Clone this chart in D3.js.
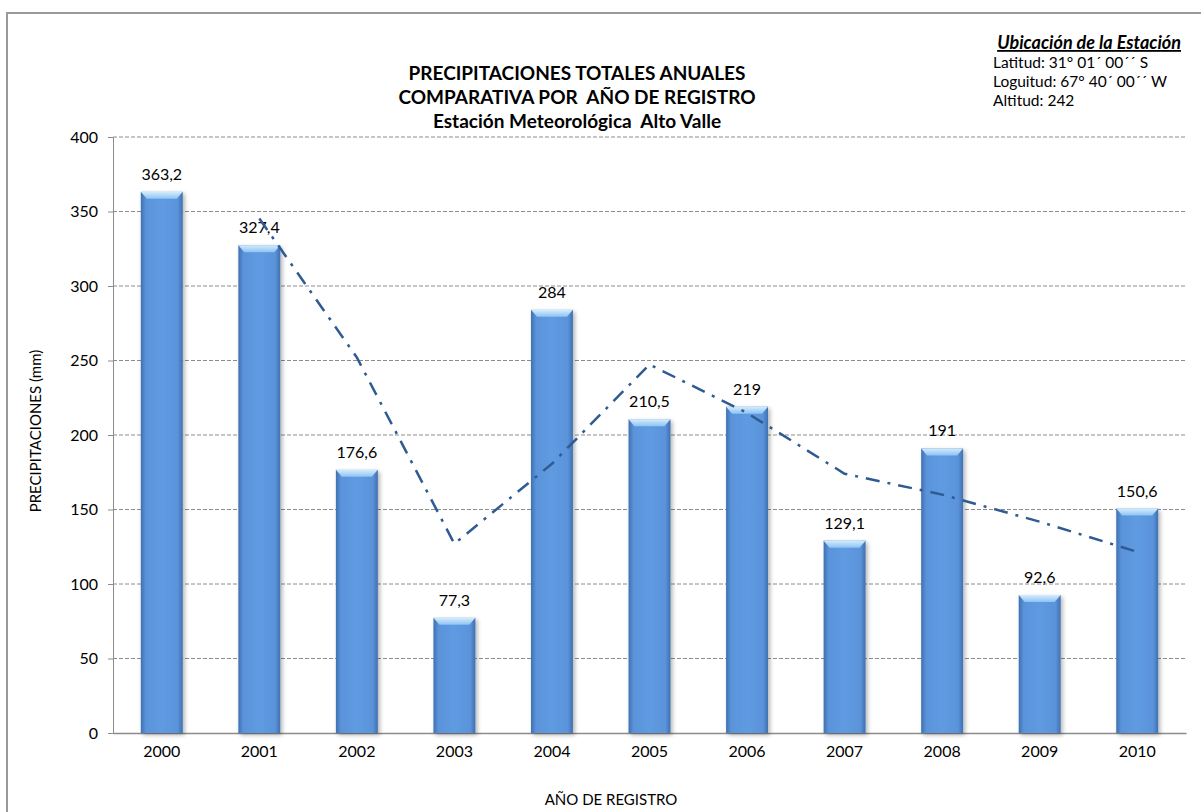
<!DOCTYPE html>
<html>
<head>
<meta charset="utf-8">
<script src="https://cdn.jsdelivr.net/npm/d3@7"></script>
<style>
  body { margin: 0; background: #fff; }
  svg { font-family: Lato, "Open Sans", sans-serif; }
</style>
</head>
<body>
<svg width="1201" height="812"></svg>
<script>
// data
const years = ["2000", "2001", "2002", "2003", "2004", "2005", "2006", "2007", "2008", "2009", "2010"]
const precip = [363.2, 327.4, 176.6, 77.3, 284, 210.5, 219, 129.1, 191, 92.6, 150.6]
const labels = ["363,2", "327,4", "176,6", "77,3", "284", "210,5", "219", "129,1", "191", "92,6", "150,6"]
// trend line (dash dot), starts at 2001
const trendYears = ["2001", "2002", "2003", "2004", "2005", "2006", "2007", "2008", "2009", "2010"]
const trendValues = [345.3, 252, 127, 180.7, 247.3, 214.8, 174, 160, 141.8, 121.6]
const yTicks = [0, 50, 100, 150, 200, 250, 300, 350, 400]
const titleLines = ["PRECIPITACIONES TOTALES ANUALES", "COMPARATIVA POR  AÑO DE REGISTRO", "Estación Meteorológica  Alto Valle"]
const infoLines = ["Latitud: 31° 01´ 00´´ S", "Loguitud: 67° 40´ 00´´ W", "Altitud: 242"]

const svg = d3.select('svg')
const margin = { top: 137, left: 113 }
const innerWidth = 1186 - margin.left
const innerHeight = 733 - margin.top

// chart frame (right and bottom edges fall outside the picture)
svg.append('rect')
  .attr('x', 7).attr('y', 13)
  .attr('width', 1210).attr('height', 820)
  .attr('fill', 'none')
  .attr('stroke', '#9a9a9a')
  .attr('stroke-width', 2)

const defs = svg.append('defs')
const grad = defs.append('linearGradient').attr('id', 'barGrad')
  .attr('x1', '0%').attr('x2', '100%').attr('y1', '0%').attr('y2', '0%')
grad.append('stop').attr('offset', '0%').attr('stop-color', '#3f70b0')
grad.append('stop').attr('offset', '12%').attr('stop-color', '#5a93da')
grad.append('stop').attr('offset', '50%').attr('stop-color', '#5f9be2')
grad.append('stop').attr('offset', '88%').attr('stop-color', '#5a93da')
grad.append('stop').attr('offset', '100%').attr('stop-color', '#3f70b0')

const topGrad = defs.append('linearGradient').attr('id', 'topGrad')
  .attr('x1', '0%').attr('x2', '0%').attr('y1', '0%').attr('y2', '100%')
topGrad.append('stop').attr('offset', '0%').attr('stop-color', '#d6ecfc')
topGrad.append('stop').attr('offset', '100%').attr('stop-color', '#8cc3f3')

const shadow = defs.append('filter').attr('id', 'shadow')
  .attr('x', '-20%').attr('y', '-5%').attr('width', '150%').attr('height', '115%')
shadow.append('feDropShadow').attr('dx', 2).attr('dy', 2).attr('stdDeviation', 2)
  .attr('flood-color', '#000').attr('flood-opacity', 0.3)

const g = svg.append('g')
  .attr('transform', `translate(${margin.left}, ${margin.top})`)

const xScale = d3.scaleBand()
  .domain(years)
  .range([0, innerWidth])
  .paddingInner(0.57)
  .paddingOuter(0.285)

const yScale = d3.scaleLinear()
  .domain([0, 400])
  .range([innerHeight, 0])

// dashed gridlines
g.append('g')
  .selectAll('line')
  .data(yTicks.filter(d => d > 0))
  .join('line')
    .attr('x1', 0).attr('x2', innerWidth)
    .attr('y1', d => yScale(d)).attr('y2', d => yScale(d))
    .attr('stroke', '#8c8c8c')
    .attr('stroke-dasharray', '4,2')

// y axis
const yAxis = g.append('g')
  .call(d3.axisLeft(yScale).tickValues(yTicks).tickSize(5).tickPadding(10))
  .attr('font-family', null)
  .attr('font-size', 16)
yAxis.select('.domain').attr('stroke', '#8c8c8c')
yAxis.selectAll('line').attr('stroke', '#8c8c8c')
yAxis.selectAll('text').attr('fill', '#000')

// x axis
const xAxis = g.append('g')
  .attr('transform', `translate(0, ${innerHeight})`)
  .call(d3.axisBottom(xScale).tickSize(0).tickPadding(13))
  .attr('font-family', null)
  .attr('font-size', 16)
xAxis.select('.domain').attr('stroke', '#8c8c8c').attr('stroke-width', 1.5)
xAxis.selectAll('text').attr('fill', '#000')

// bars
const bars = g.append('g')
  .selectAll('g')
  .data(years.map((y, i) => ({ year: y, value: precip[i], label: labels[i] })))
  .join('g')

bars.append('rect')
  .attr('x', d => xScale(d.year))
  .attr('y', d => yScale(d.value))
  .attr('width', xScale.bandwidth())
  .attr('height', d => innerHeight - yScale(d.value))
  .attr('fill', 'url(#barGrad)')
  .attr('filter', 'url(#shadow)')

// bevel on the top of each bar
bars.append('path')
  .attr('d', d => {
    const x0 = xScale(d.year)
    const x1 = x0 + xScale.bandwidth()
    const y0 = yScale(d.value)
    return `M${x0},${y0} L${x1},${y0} L${x1 - 6},${y0 + 7} L${x0 + 6},${y0 + 7} Z`
  })
  .attr('fill', 'url(#topGrad)')

bars.append('text')
  .attr('x', d => xScale(d.year) + xScale.bandwidth() / 2)
  .attr('y', d => yScale(d.value) - 12)
  .attr('text-anchor', 'middle')
  .attr('font-size', 16)
  .attr('fill', '#000')
  .text(d => d.label)

// dash dot trend line
const line = d3.line()
  .x(d => xScale(d[0]) + xScale.bandwidth() / 2)
  .y(d => yScale(d[1]))

g.append('path')
  .datum(trendYears.map((y, i) => [y, trendValues[i]]))
  .attr('d', line)
  .attr('fill', 'none')
  .attr('stroke', '#2f5b92')
  .attr('stroke-width', 2.5)
  .attr('stroke-dasharray', '14,8,3,8')

// axis titles
svg.append('text')
  .attr('transform', `translate(41, ${margin.top + innerHeight / 2 - 4}) rotate(-90)`)
  .attr('text-anchor', 'middle')
  .attr('font-size', 15)
  .text('PRECIPITACIONES (mm)')

svg.append('text')
  .attr('x', 611)
  .attr('y', 805)
  .attr('text-anchor', 'middle')
  .attr('font-size', 15)
  .text('AÑO DE REGISTRO')

// chart title
svg.append('g')
  .selectAll('text')
  .data(titleLines)
  .join('text')
    .attr('x', 577)
    .attr('y', (d, i) => 80 + i * 24)
    .attr('text-anchor', 'middle')
    .attr('font-size', 19)
    .attr('font-weight', 'bold')
    .style('white-space', 'pre')
    .text(d => d)

// station info
svg.append('text')
  .attr('x', 1181)
  .attr('y', 49)
  .attr('text-anchor', 'end')
  .attr('font-size', 18)
  .attr('font-weight', 'bold')
  .attr('font-style', 'italic')
  .attr('text-decoration', 'underline')
  .text('Ubicación de la Estación')

svg.append('g')
  .selectAll('text')
  .data(infoLines)
  .join('text')
    .attr('x', 993)
    .attr('y', (d, i) => 68 + i * 19)
    .attr('font-size', 15.5)
    .text(d => d)
</script>
</body>
</html>
